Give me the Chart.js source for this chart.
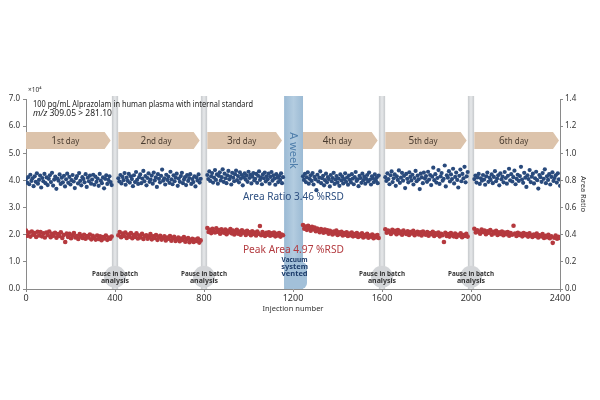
<!DOCTYPE html>
<html>
<head>
<meta charset="utf-8">
<script src="https://cdn.jsdelivr.net/npm/chart.js@4.4.1/dist/chart.umd.min.js"></script>
<style>
  body { margin: 0; background: #fff; }
  #wrap { width: 600px; height: 400px; }
</style>
</head>
<body>
<div id="wrap"><canvas id="chart" width="600" height="400"></canvas></div>
<script>
// injection ranges of each day (gaps = pauses / venting)
const segStart = [0, 415, 815, 1245, 1615, 2015];
const segEnd = [385, 785, 1155, 1585, 1985, 2400];
const dayNum = ['1', '2', '3', '4', '5', '6'];
const daySuffix = ['st', 'nd', 'rd', 'th', 'th', 'th'];
const pauseAt = [400, 800, 1600, 2000];
const ventRange = [1160, 1245];

// area ratio (right axis), one list per day
const ratioDay1 = [.81,.784,.824,.772,.842,.796,.816,.758,.83,.79,.852,.776,.804,.836,.748,.818,.794,.848,.78,.822,
  .766,.812,.838,.788,.856,.762,.806,.828,.738,.814,.798,.844,.774,.82,.786,.834,.756,.808,.85,.782,
  .826,.77,.802,.84,.792,.744,.816,.832,.778,.854,.796,.764,.824,.81,.786,.846,.752,.82,.794,.836,
  .776,.806,.842,.768,.828,.79,.814,.76,.848,.798,.78,.822,.742,.812,.838,.774,.804,.83,.788,.766];
const ratioDay2 = [.816,.792,.84,.778,.826,.802,.854,.768,.82,.796,.848,.784,.83,.81,.758,.838,.788,.862,.804,.774,
  .824,.844,.78,.814,.87,.794,.832,.764,.818,.852,.79,.806,.836,.776,.858,.8,.822,.752,.846,.812,
  .786,.834,.88,.798,.816,.77,.842,.804,.828,.782,.864,.808,.772,.838,.794,.82,.85,.76,.814,.79,
  .832,.856,.78,.806,.824,.766,.84,.796,.818,.846,.774,.81,.788,.83,.756,.822,.8,.844,.784,.812];
const ratioDay3 = [.84,.81,.866,.796,.83,.854,.784,.82,.876,.804,.844,.776,.834,.86,.8,.824,.882,.79,.85,.816,
  .78,.838,.87,.808,.828,.77,.856,.82,.794,.846,.872,.802,.832,.786,.86,.814,.84,.764,.824,.852,
  .806,.836,.79,.864,.818,.842,.778,.828,.854,.8,.812,.848,.782,.834,.866,.804,.822,.772,.844,.816,
  .858,.792,.83,.808,.85,.776,.826,.862,.798,.838,.814,.768,.846,.82,.788,.832,.804,.852,.78,.824];
const ratioDay4 = [.83,.804,.848,.788,.822,.86,.776,.812,.838,.796,.854,.77,.826,.808,.728,.842,.792,.82,.866,.78,
  .816,.834,.764,.802,.85,.786,.824,.81,.756,.84,.794,.818,.856,.774,.806,.832,.784,.814,.76,.844,
  .8,.828,.778,.81,.852,.79,.82,.768,.836,.804,.786,.846,.814,.772,.824,.862,.796,.808,.758,.834,
  .818,.782,.85,.802,.828,.776,.812,.84,.792,.858,.806,.77,.83,.816,.788,.844,.8,.822,.78,.836];
const ratioDay5 = [.824,.796,.852,.81,.772,.838,.866,.788,.816,.844,.76,.83,.804,.874,.782,.82,.856,.798,.834,.744,
  .848,.812,.786,.86,.826,.8,.842,.77,.818,.87,.794,.836,.808,.736,.85,.822,.78,.858,.814,.832,
  .79,.864,.806,.84,.766,.828,.894,.802,.846,.784,.818,.876,.774,.83,.854,.798,.812,.91,.756,.838,
  .82,.868,.792,.844,.81,.886,.778,.826,.858,.804,.748,.834,.88,.794,.848,.816,.9,.786,.83,.862];
const ratioDay6 = [.81,.836,.784,.822,.848,.774,.816,.798,.84,.806,.768,.83,.858,.79,.82,.804,.844,.78,.826,.868,
  .794,.814,.838,.764,.852,.808,.828,.786,.862,.818,.776,.834,.886,.8,.846,.792,.824,.872,.772,.812,
  .842,.796,.832,.9,.806,.782,.856,.82,.752,.838,.81,.876,.788,.828,.85,.778,.816,.864,.802,.74,
  .84,.824,.79,.854,.812,.882,.78,.83,.804,.846,.77,.826,.86,.796,.818,.838,.784,.852,.808,.76];

// peak area (left axis, x10^4), one list per day
const areaDay1 = [2.15,1.96,2.08,1.93,2.12,2.0,2.06,1.92,2.11,1.97,2.1,1.94,2.05,1.9,2.08,1.99,2.12,1.91,2.03,1.96,
  2.07,1.89,2.02,1.95,2.09,1.88,1.99,1.73,2.04,1.92,2.03,1.87,1.98,2.06,1.9,1.95,1.84,2.02,1.93,1.88,
  2.0,1.85,1.95,1.9,2.01,1.83,1.96,1.88,1.82,1.97,1.84,1.94,1.8,1.91,1.86,1.97,1.81,1.9,1.85,1.93];
const areaDay2 = [1.98,2.1,1.91,2.04,1.95,2.08,1.88,2.01,1.93,2.06,1.87,1.99,1.92,2.05,1.86,1.97,1.9,2.03,1.84,1.95,
  1.98,1.85,1.92,2.02,1.83,1.94,1.88,1.99,1.81,1.91,1.96,1.82,1.89,1.94,1.79,1.9,1.85,1.95,1.78,1.87,
  1.92,1.77,1.84,1.9,1.76,1.86,1.81,1.91,1.74,1.83,1.88,1.72,1.8,1.85,1.73,1.82,1.77,1.86,1.71,1.79];
const areaDay3 = [2.25,2.1,2.18,2.06,2.22,2.13,2.08,2.24,2.11,2.17,2.04,2.2,2.12,2.07,2.19,2.02,2.14,2.09,2.21,2.05,
  2.15,2.01,2.1,2.18,2.04,2.12,2.0,2.16,2.07,2.11,1.99,2.14,2.05,2.09,1.98,2.13,2.03,2.08,1.97,2.12,
  2.04,2.32,1.98,2.1,2.02,1.95,2.07,2.0,2.09,1.96,2.05,1.99,2.08,1.94,2.03,1.97,2.06,1.93,2.01,1.98];
const areaDay4 = [2.36,2.22,2.3,2.18,2.33,2.24,2.15,2.29,2.2,2.26,2.13,2.23,2.17,2.09,2.21,2.14,2.07,2.19,2.1,2.16,
  2.04,2.14,2.08,2.01,2.12,2.05,2.15,1.99,2.09,2.03,2.11,1.97,2.06,2.0,2.09,1.95,2.04,1.98,2.08,1.94,
  2.02,1.96,2.06,1.92,2.01,1.95,2.05,1.9,1.99,1.94,2.03,1.89,1.97,1.93,2.01,1.87,1.96,1.91,1.99,1.88];
const areaDay5 = [2.2,2.07,2.15,2.1,2.03,2.18,2.09,2.14,2.02,2.17,2.06,2.12,2.0,2.15,2.08,2.03,2.13,1.99,2.1,2.05,
  2.14,1.98,2.07,2.11,2.01,2.09,1.97,2.12,2.04,2.0,2.1,1.96,2.06,2.02,2.11,1.95,2.05,2.0,2.08,1.94,
  2.03,1.98,1.73,2.07,1.95,2.02,1.93,2.06,1.99,1.94,2.04,1.92,2.0,1.97,2.05,1.91,1.99,1.95,2.03,1.93];
const areaDay6 = [2.22,2.08,2.16,2.11,2.04,2.19,2.1,2.15,2.02,2.13,2.07,2.17,2.0,2.11,2.05,2.14,1.99,2.09,2.03,2.12,
  1.98,2.08,2.02,2.1,1.96,2.06,2.0,2.33,2.04,1.95,2.07,1.99,2.03,1.94,2.06,1.98,2.02,1.93,2.05,1.97,
  1.92,2.01,1.95,2.04,1.9,1.98,1.94,2.02,1.88,1.96,1.91,2.0,1.87,1.94,1.7,1.89,1.97,1.85,1.92,1.88];

const ratioDays = [ratioDay1, ratioDay2, ratioDay3, ratioDay4, ratioDay5, ratioDay6];
const areaDays = [areaDay1, areaDay2, areaDay3, areaDay4, areaDay5, areaDay6];

const FONT = '"Noto Sans", "Open Sans", sans-serif';
const BLUE = '#294a7c';
const RED = '#b5393e';

// injections are consecutive within a day
function toPoints(days) {
  const pts = [];
  days.forEach((vals, d) => {
    const step = (segEnd[d] - segStart[d]) / (vals.length - 1);
    vals.forEach((v, i) => pts.push({ x: segStart[d] + i * step, y: v }));
  });
  return pts;
}

const decor = {
  id: 'decor',
  beforeDatasetsDraw(chart) {
    const { ctx, chartArea: a, scales: { x, y } } = chart;
    ctx.save();
    // pauses
    pauseAt.forEach(p => {
      const l = x.getPixelForValue(p - 14), r = x.getPixelForValue(p + 14);
      const g = ctx.createLinearGradient(l, 0, r, 0);
      g.addColorStop(0, '#c6c9cc');
      g.addColorStop(0.5, '#e6e8ea');
      g.addColorStop(1, '#c6c9cc');
      ctx.fillStyle = g;
      ctx.fillRect(l, a.top - 3, r - l, a.bottom - a.top + 3);
    });
    // a week off, vacuum vented
    const vl = x.getPixelForValue(ventRange[0]), vr = x.getPixelForValue(ventRange[1]);
    const vg = ctx.createLinearGradient(vl, 0, vr, 0);
    vg.addColorStop(0, '#9bbad4');
    vg.addColorStop(0.5, '#b3cce0');
    vg.addColorStop(1, '#9bbad4');
    ctx.fillStyle = vg;
    ctx.fillRect(vl, a.top - 3, vr - vl, a.bottom - a.top + 3);
    ctx.beginPath();
    ctx.roundRect(vl, y.getPixelForValue(1.0), vr - vl + 4, a.bottom - y.getPixelForValue(1.0), 6);
    ctx.fillStyle = '#a2c0d9';
    ctx.fill();

    // day arrows
    const top = y.getPixelForValue(5.78), bot = y.getPixelForValue(5.16), mid = (top + bot) / 2;
    segStart.forEach((s, d) => {
      const l = x.getPixelForValue(s), r = x.getPixelForValue(segEnd[d]) - 1;
      ctx.beginPath();
      ctx.moveTo(l, top);
      ctx.lineTo(r - 6, top);
      ctx.lineTo(r, mid);
      ctx.lineTo(r - 6, bot);
      ctx.lineTo(l, bot);
      ctx.closePath();
      ctx.fillStyle = '#dcc3ab';
      ctx.fill();
      // label like "1st day"
      const cx = (l + r - 6) / 2;
      ctx.fillStyle = '#4a3c30';
      ctx.textBaseline = 'alphabetic';
      const big = '10px ' + FONT, small = '8px ' + FONT;
      ctx.font = big; const w1 = ctx.measureText(dayNum[d]).width;
      ctx.font = small; const w2 = ctx.measureText(daySuffix[d] + ' day').width;
      const px = cx - (w1 + w2) / 2;
      ctx.font = big; ctx.fillText(dayNum[d], px, mid + 3.5);
      ctx.font = small; ctx.fillText(daySuffix[d] + ' day', px + w1, mid + 3.5);
    });
    ctx.restore();
  },
  afterDatasetsDraw(chart) {
    const { ctx, chartArea: a, scales: { x, y } } = chart;
    ctx.save();
    ctx.textBaseline = 'middle';

    // pause bubbles
    pauseAt.forEach(p => {
      const cx = x.getPixelForValue(p), cy = y.getPixelForValue(0.45);
      ctx.beginPath();
      ctx.arc(cx, cy, 11, 0, Math.PI * 2);
      ctx.fillStyle = '#d3d5d8';
      ctx.fill();
      ctx.fillStyle = '#333';
      ctx.textAlign = 'center';
      ctx.font = 'bold 7px ' + FONT;
      ctx.fillText('Pause in batch', cx, cy - 3, 46);
      ctx.fillText('analysis', cx, cy + 4);
    });

    // vent labels
    const vc = x.getPixelForValue((ventRange[0] + ventRange[1]) / 2) + 1;
    ctx.fillStyle = '#1d3d6b';
    ctx.font = 'bold 7.5px ' + FONT;
    ctx.textAlign = 'center';
    const vy = y.getPixelForValue(0.8);
    ctx.fillText('Vacuum', vc, vy - 7, 26);
    ctx.fillText('system', vc, vy);
    ctx.fillText('vented', vc, vy + 7);

    ctx.save();
    ctx.translate(vc - 1, y.getPixelForValue(5.1));
    ctx.rotate(Math.PI / 2);
    ctx.fillStyle = '#4f7eab';
    ctx.font = '11px ' + FONT;
    ctx.fillText('A week', 0, 0);
    ctx.restore();

    // header note
    ctx.textAlign = 'left';
    ctx.fillStyle = '#222';
    ctx.font = '8.5px ' + FONT;
    ctx.fillText('100 pg/mL Alprazolam in human plasma with internal standard', a.left + 7, a.top + 6, 220);
    ctx.font = 'italic 8.5px ' + FONT;
    ctx.fillText('m/z', a.left + 7, a.top + 15);
    const mw = ctx.measureText('m/z ').width;
    ctx.font = '8.5px ' + FONT;
    ctx.fillText('309.05 > 281.10', a.left + 7 + mw, a.top + 15);

    // RSD labels
    ctx.font = '11px ' + FONT;
    ctx.fillStyle = '#2d4f80';
    ctx.fillText('Area Ratio 3.46 %RSD', x.getPixelForValue(975), y.getPixelForValue(3.4), 101);
    ctx.fillStyle = '#b33a3f';
    ctx.fillText('Peak Area 4.97 %RSD', x.getPixelForValue(975), y.getPixelForValue(1.45), 101);

    // exponent
    ctx.fillStyle = '#333';
    ctx.font = '6.5px ' + FONT;
    ctx.fillText('\u00d710\u2074', a.left + 2, a.top - 9);
    ctx.restore();
  }
};

const axisColor = '#8a8a8a';
const tickFont = { family: FONT, size: 8 };

new Chart(document.getElementById('chart'), {
  type: 'scatter',
  data: {
    datasets: [
      {
        label: 'Area Ratio',
        data: toPoints(ratioDays),
        yAxisID: 'y2',
        backgroundColor: BLUE,
        borderWidth: 0,
        pointRadius: 2.1
      },
      {
        label: 'Peak Area',
        data: toPoints(areaDays),
        yAxisID: 'y',
        backgroundColor: RED,
        borderWidth: 0,
        pointRadius: 2.3
      }
    ]
  },
  options: {
    responsive: false,
    animation: false,
    layout: { padding: { top: 99, bottom: 85, left: 0, right: 10 } },
    plugins: { legend: { display: false }, tooltip: { enabled: false } },
    scales: {
      x: {
        type: 'linear',
        min: 0, max: 2400,
        ticks: { stepSize: 400, color: '#333', font: { family: FONT, size: 9 }, padding: 1, maxRotation: 0, callback: v => String(v) },
        grid: { drawOnChartArea: false, tickLength: 3, color: axisColor },
        border: { color: axisColor },
        title: { display: true, text: 'Injection number', color: '#333', font: { family: FONT, size: 7.5 }, padding: { top: 2, bottom: 2 } },
        afterFit(s) { s.height = 26; }
      },
      y: {
        position: 'left',
        min: 0, max: 7,
        ticks: { stepSize: 1, color: '#333', font: tickFont, padding: 3, callback: v => v.toFixed(1) },
        grid: { drawOnChartArea: false, tickLength: 3, color: axisColor },
        border: { color: axisColor },
        afterFit(s) { s.width = 26; }
      },
      y2: {
        position: 'right',
        min: 0, max: 1.4,
        ticks: { stepSize: 0.2, color: '#333', font: tickFont, padding: 2, callback: v => v.toFixed(1) },
        grid: { drawOnChartArea: false, tickLength: 3, color: axisColor },
        border: { color: axisColor },
        title: { display: true, text: 'Area Ratio', color: '#333', font: { family: FONT, size: 7.5 }, padding: 2 },
        afterFit(s) { s.width = 30; }
      }
    }
  },
  plugins: [decor]
});
</script>
</body>
</html>
